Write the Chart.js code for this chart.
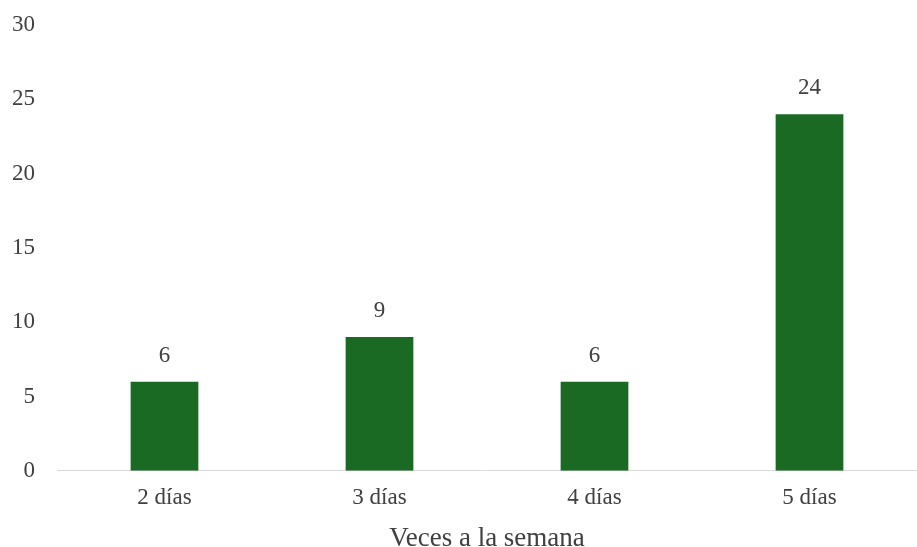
<!DOCTYPE html>
<html>
<head>
<meta charset="utf-8">
<script src="https://cdn.jsdelivr.net/npm/chart.js@4/dist/chart.umd.min.js"></script>
<style>
  html, body { margin: 0; padding: 0; background: #fff; }
  #wrap { width: 917px; height: 547px; }
</style>
</head>
<body>
<div id="wrap"><canvas id="barChart"></canvas></div>
<script>
const categories = ['2 días', '3 días', '4 días', '5 días'];
const values = [6, 9, 6, 24];
const yTicks = [0, 5, 10, 15, 20, 25, 30];

const serif = '"Liberation Serif", "Times New Roman", serif';

// value labels above each bar
const barLabels = {
    id: 'barLabels',
    afterDatasetsDraw(chart) {
        const ctx = chart.ctx;
        const meta = chart.getDatasetMeta(0);
        ctx.save();
        ctx.font = '23px ' + serif;
        ctx.fillStyle = '#404040';
        ctx.textAlign = 'center';
        ctx.textBaseline = 'middle';
        meta.data.forEach(function(bar, i){
            ctx.fillText(values[i], bar.x, bar.y - 26);
        });
        ctx.restore();
    }
};

const config = {
    type: 'bar',
    data: {
        labels: categories,
        datasets: [{
            data: values,
            backgroundColor: '#1b6a24',
            borderWidth: 0,
            categoryPercentage: 1,
            barPercentage: 0.315
        }]
    },
    options: {
        responsive: true,
        maintainAspectRatio: false,
        animation: false,
        layout: { padding: { top: 25, right: 0, left: -10, bottom: -13 } },
        plugins: {
            legend: { display: false },
            tooltip: { enabled: false }
        },
        scales: {
            x: {
                grid: { display: false, drawTicks: false },
                border: { display: true, color: '#d9d9d9', width: 1 },
                ticks: {
                    color: '#404040',
                    padding: 13,
                    font: { family: serif, size: 23 }
                },
                title: {
                    display: true,
                    text: 'Veces a la semana',
                    color: '#404040',
                    padding: { top: 4, bottom: 10 },
                    font: { family: serif, size: 27, lineHeight: 0.8 }
                }
            },
            y: {
                min: 0,
                max: 30,
                afterBuildTicks: function(axis){
                    axis.ticks = yTicks.map(function(v){ return { value: v }; });
                },
                grid: { display: false, drawTicks: false },
                border: { display: false },
                ticks: {
                    color: '#404040',
                    padding: 22,
                    font: { family: serif, size: 23, lineHeight: 0.1 }
                }
            }
        }
    },
    plugins: [barLabels]
};

const barChart = new Chart(document.getElementById('barChart'), config);
</script>
</body>
</html>
